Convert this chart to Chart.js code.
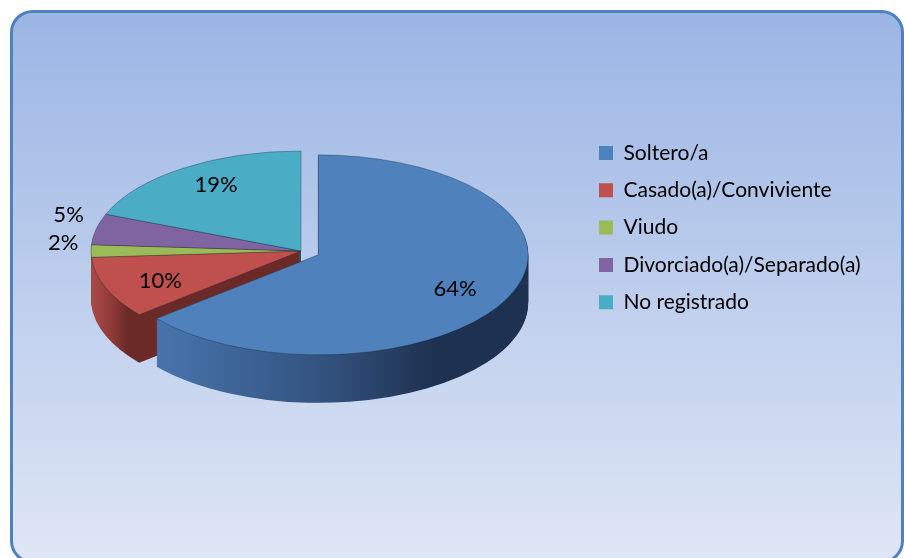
<!DOCTYPE html>
<html>
<head>
<meta charset="utf-8">
<script src="https://cdn.jsdelivr.net/npm/chart.js@4.4.1/dist/chart.umd.min.js"></script>
<style>
  html, body { margin: 0; padding: 0; background: #ffffff; }
  #wrap { width: 904px; height: 558px; position: relative; }
</style>
</head>
<body>
<div id="wrap"><canvas id="c" width="904" height="558"></canvas></div>
<script>
// ---------- data ----------
const categories = ['Soltero/a', 'Casado(a)/Conviviente', 'Viudo', 'Divorciado(a)/Separado(a)', 'No registrado'];
const values = [64, 10, 2, 5, 19];
const valueLabels = ['64%', '10%', '2%', '5%', '19%'];

// ---------- styles ----------
const sliceColors = ['#4f81bd', '#c0504d', '#9bbb59', '#8064a2', '#4bacc6'];
const sideLight   = ['#4874ad', '#ad4946', '#8aa84f', '#715891', '#3f98b0'];
const sideDark    = ['#1e3150', '#6b2a28', '#55692f', '#44345a', '#27606f'];

const FONT_FAMILY = "Lato, 'Open Sans', 'DejaVu Sans', sans-serif";
const PIE = { cx: 301, cy: 251, rx: 210, ry: 100, depth: 48, explode: 19, explodeIndex: 0 };
const LEGEND = { boxLeft: 599, firstRowCenter: 153, fontSize: 21, padding: 16.3, box: 14 };
const LABEL_FONT_SIZE = 22;

function mixHex(a, b, t) {
  const pa = [1,3,5].map(k => parseInt(a.substr(k,2),16));
  const pb = [1,3,5].map(k => parseInt(b.substr(k,2),16));
  return 'rgb(' + pa.map((v,k) => Math.round(v + (pb[k]-v)*t)).join(',') + ')';
}

// ---------- frame / background ----------
const framePlugin = {
  id: 'frame',
  beforeDraw(chart) {
    const ctx = chart.ctx;
    const x0 = 11.5, y0 = 11.5, x1 = 902.5, y1 = 562, r = 21;
    ctx.save();
    ctx.beginPath();
    ctx.moveTo(x0 + r, y0);
    ctx.lineTo(x1 - r, y0);
    ctx.arcTo(x1, y0, x1, y0 + r, r);
    ctx.lineTo(x1, y1 - r);
    ctx.arcTo(x1, y1, x1 - r, y1, r);
    ctx.lineTo(x0 + r, y1);
    ctx.arcTo(x0, y1, x0, y1 - r, r);
    ctx.lineTo(x0, y0 + r);
    ctx.arcTo(x0, y0, x0 + r, y0, r);
    ctx.closePath();
    const g = ctx.createLinearGradient(0, y0, 0, 558);
    g.addColorStop(0, '#9bb5e4');
    g.addColorStop(1, '#dfe6f5');
    ctx.fillStyle = g;
    ctx.fill();
    ctx.lineWidth = 3;
    ctx.strokeStyle = '#4f81bd';
    ctx.stroke();
    ctx.restore();
  }
};

// ---------- 3D pie (drawn from Chart.js arc elements) ----------
function pieGeom(chart) {
  const arcs = chart.getDatasetMeta(0).data;
  const r = arcs[0].outerRadius;
  return { arcs, r, ox: arcs[0].x, oy: arcs[0].y, sx: PIE.rx / r, sy: PIE.ry / r };
}
function explodeScreen(el, i) {
  if (i !== PIE.explodeIndex) return { x: 0, y: 0 };
  const m = (el.startAngle + el.endAngle) / 2;
  return { x: PIE.explode * Math.cos(m), y: PIE.explode * Math.sin(m) * PIE.ry / PIE.rx };
}

const pie3dPlugin = {
  id: 'pie3d',
  beforeDatasetsDraw(chart) {
    const ctx = chart.ctx;
    const G = pieGeom(chart);
    const order = [[1, 2, 3, 4], [0]];
    const applyT = (el, i, dy) => {
      const e = explodeScreen(el, i);
      ctx.translate(PIE.cx + e.x, PIE.cy + e.y + dy);
      ctx.scale(G.sx, G.sy);
      ctx.translate(-G.ox, -G.oy);
    };
    const sideFill = (el, i) => {
      let minX = Infinity, maxX = -Infinity;
      for (let k = 0; k <= 60; k++) {
        const a = el.startAngle + (el.endAngle - el.startAngle) * k / 60;
        const X = Math.cos(a) * G.r;
        minX = Math.min(minX, X); maxX = Math.max(maxX, X);
      }
      const g = ctx.createLinearGradient(G.ox + minX, 0, G.ox + maxX, 0);
      g.addColorStop(0, sideLight[i]);
      g.addColorStop(0.45, mixHex(sideLight[i], sideDark[i], 0.5));
      g.addColorStop(0.75, sideDark[i]);
      g.addColorStop(1, sideDark[i]);
      return g;
    };
    for (const group of order) {
      for (let d = PIE.depth; d >= 1; d--) {
        for (const i of group) {
          const el = G.arcs[i];
          ctx.save();
          applyT(el, i, d);
          const fake = Object.create(el);
          fake.options = Object.assign({}, el.options, { backgroundColor: sideFill(el, i), borderWidth: 0 });
          fake.draw(ctx);
          ctx.restore();
        }
      }
      for (const i of group) {
        const el = G.arcs[i];
        ctx.save();
        applyT(el, i, 0);
        el.draw(ctx);
        ctx.restore();
      }
    }
    return false;
  },
  afterDraw(chart) {
    const ctx = chart.ctx;
    const G = pieGeom(chart);
    ctx.save();
    ctx.font = LABEL_FONT_SIZE + 'px ' + FONT_FAMILY;
    ctx.fillStyle = '#000000';
    G.arcs.forEach((el, i) => {
      const m = (el.startAngle + el.endAngle) / 2;
      const e = explodeScreen(el, i);
      const cx = PIE.cx + e.x, cy = PIE.cy + e.y;
      if (values[i] >= 8) {
        ctx.textAlign = 'center';
        ctx.textBaseline = 'middle';
        ctx.fillText(valueLabels[i], cx + Math.cos(m) * PIE.rx * 0.72, cy + Math.sin(m) * PIE.ry * 0.8);
      } else {
        ctx.textAlign = Math.cos(m) < 0 ? 'right' : 'left';
        ctx.textBaseline = 'bottom';
        ctx.fillText(valueLabels[i], cx + Math.cos(m) * PIE.rx * 1.06, cy + Math.sin(m) * PIE.ry * 1.3 + 3);
      }
    });
    ctx.restore();
  }
};

// ---------- legend placement ----------
const padTop = LEGEND.firstRowCenter - LEGEND.fontSize / 2 - LEGEND.padding;

const chart = new Chart(document.getElementById('c'), {
  type: 'pie',
  data: {
    labels: categories,
    datasets: [{
      data: values,
      backgroundColor: sliceColors,
      borderColor: 'rgba(20,30,40,0.45)',
      borderWidth: 1
    }]
  },
  options: {
    responsive: false,
    animation: false,
    devicePixelRatio: 1,
    layout: { padding: { top: padTop, right: 20, bottom: 0, left: 0 } },
    plugins: {
      tooltip: { enabled: false },
      legend: {
        position: 'right',
        align: 'start',
        labels: {
          boxWidth: LEGEND.box,
          boxHeight: LEGEND.box,
          padding: LEGEND.padding,
          color: '#000000',
          font: { family: FONT_FAMILY, size: LEGEND.fontSize },
          generateLabels(chart) {
            const items = Chart.overrides.doughnut.plugins.legend.labels.generateLabels(chart);
            items.forEach(it => { it.lineWidth = 0; it.strokeStyle = 'rgba(0,0,0,0)'; });
            return items;
          }
        }
      }
    }
  },
  plugins: [framePlugin, pie3dPlugin]
});

// shift the legend so its colour boxes start at LEGEND.boxLeft
const boxX = chart.legend.legendHitBoxes.length ? chart.legend.legendHitBoxes[0].left : chart.legend.left + LEGEND.padding;
const shift = boxX - LEGEND.boxLeft;
chart.options.layout.padding.right = Math.max(0, 20 + shift);
chart.update();
</script>
</body>
</html>
